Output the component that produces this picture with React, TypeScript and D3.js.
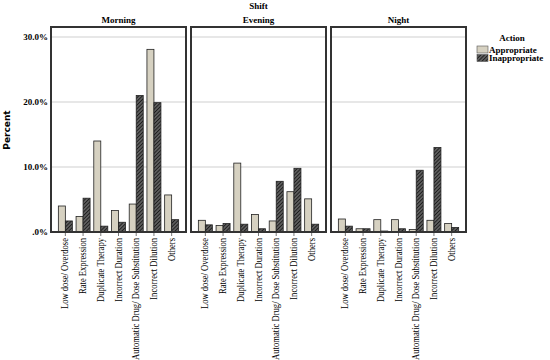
import * as d3 from 'd3'

// Values (percent)
const categories = [
  'Low dose/ Overdose',
  'Rate Expression',
  'Duplicate Therapy',
  'Incorrect Duration',
  'Automatic Drug/ Dose Substitution',
  'Incorrect Dilution',
  'Others',
]
const shifts = ['Morning', 'Evening', 'Night']
const actions = ['Appropriate', 'Inappropriate']

const morningAppropriate = [4.0, 2.4, 14.0, 3.3, 4.3, 28.1, 5.7]
const morningInappropriate = [1.7, 5.2, 0.9, 1.5, 21.0, 19.9, 1.9]
const eveningAppropriate = [1.8, 1.0, 10.6, 2.7, 1.7, 6.2, 5.1]
const eveningInappropriate = [1.1, 1.3, 1.2, 0.5, 7.8, 9.8, 1.2]
const nightAppropriate = [2.0, 0.5, 1.9, 1.9, 0.4, 1.8, 1.3]
const nightInappropriate = [0.9, 0.5, 0.15, 0.5, 9.5, 13.0, 0.7]

const yTicks = [0, 10, 20, 30]
const yTickLabels = ['.0%', '10.0%', '20.0%', '30.0%']

const seriesByShift: Record<string, number[][]> = {
  Morning: [morningAppropriate, morningInappropriate],
  Evening: [eveningAppropriate, eveningInappropriate],
  Night: [nightAppropriate, nightInappropriate],
}

const serif = '"Liberation Serif", "Times New Roman", serif'
const lightFill = '#d6d1c1'

export default function App() {
  const width = 550
  const height = 360
  const top = 27
  const bottom = 232

  const y = d3.scaleLinear().domain([0, 30]).range([bottom, 37])
  const panel = d3.scaleBand().domain(shifts).range([51, 466]).paddingInner(5 / 140)
  const pw = panel.bandwidth()
  const x = d3.scaleBand().domain(categories).range([0, pw]).paddingOuter(0.31)
  const step = x.step()
  const sub = d3.scaleBand().domain(actions).range([step / 2 - 7, step / 2 + 7])

  return (
    <svg width={width} height={height} style={{ position: 'absolute', left: 0, top: 0, background: '#fff' }}>
      <defs>
        <pattern id="hatch" width="2.6" height="2.6" patternUnits="userSpaceOnUse" patternTransform="rotate(45)">
          <rect width="2.6" height="2.6" fill="#5e5e5e" />
          <line x1="0" y1="0" x2="0" y2="2.6" stroke="#111" strokeWidth="1.5" />
        </pattern>
      </defs>

      <text x={(51 + 466) / 2} y={9} textAnchor="middle" fontFamily={serif} fontWeight="bold" fontSize={9}>
        Shift
      </text>

      <text
        transform={`translate(10,130) rotate(-90)`}
        textAnchor="middle"
        fontFamily='"DejaVu Sans", sans-serif'
        fontWeight="bold"
        fontSize={9}
      >
        Percent
      </text>

      {yTicks.map((t, i) => (
        <text key={t} x={48} y={y(t) + 3} textAnchor="end" fontFamily={serif} fontWeight="bold" fontSize={9}>
          {yTickLabels[i]}
        </text>
      ))}

      {shifts.map((s) => {
        const px = panel(s) as number
        const series = seriesByShift[s]
        return (
          <g key={s} transform={`translate(${px},0)`}>
            <text x={pw / 2} y={23} textAnchor="middle" fontFamily={serif} fontWeight="bold" fontSize={9}>
              {s}
            </text>
            {yTicks.slice(1).map((t) => (
              <line key={t} x1={0} x2={pw} y1={y(t)} y2={y(t)} stroke="#cfcfcf" strokeWidth={1} />
            ))}
            {categories.map((c, ci) => (
              <g key={c} transform={`translate(${x(c)},0)`}>
                {actions.map((a, ai) => {
                  const v = series[ai][ci]
                  return (
                    <rect
                      key={a}
                      x={sub(a)}
                      y={y(v)}
                      width={sub.bandwidth()}
                      height={bottom - y(v)}
                      fill={ai === 0 ? lightFill : 'url(#hatch)'}
                      stroke="#222"
                      strokeWidth={0.8}
                    />
                  )
                })}
                <line x1={step / 2} x2={step / 2} y1={bottom} y2={bottom + 4} stroke="#555" strokeWidth={0.8} />
                <text
                  transform={`translate(${step / 2 + 3},${bottom + 6}) rotate(-90) scale(0.86,1)`}
                  textAnchor="end"
                  fontFamily={serif}
                  fontSize={10}
                >
                  {c}
                </text>
              </g>
            ))}
            <rect x={0} y={top} width={pw} height={bottom - top} fill="none" stroke="#333" strokeWidth={2} />
          </g>
        )
      })}

      <g>
        <text x={512} y={41} textAnchor="middle" fontFamily={serif} fontWeight="bold" fontSize={9}>
          Action
        </text>
        {actions.map((a, i) => (
          <g key={a} transform={`translate(477,${46 + i * 8.5})`}>
            <rect width={11} height={7} fill={i === 0 ? lightFill : 'url(#hatch)'} stroke="#555" strokeWidth={0.6} />
            <text x={12} y={6.5} fontFamily={serif} fontWeight="bold" fontSize={9}>
              {a}
            </text>
          </g>
        ))}
      </g>
    </svg>
  )
}
